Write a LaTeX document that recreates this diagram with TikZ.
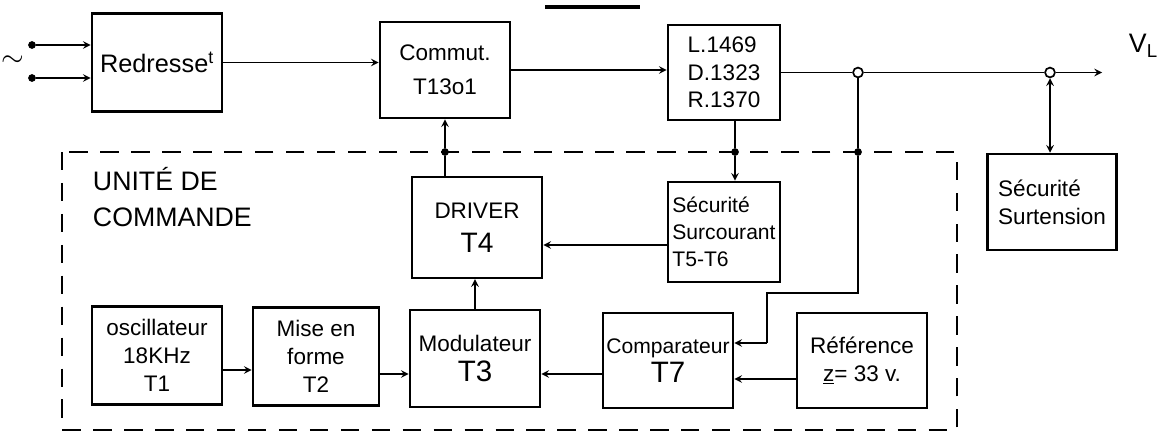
\documentclass[tikz,border=0pt]{standalone}
\usepackage{fontspec}
\setmainfont{Liberation Sans}
\usetikzlibrary{arrows,positioning,calc}

\begin{document}
\begin{tikzpicture}[x=0.025cm, y=-0.025cm, >=stealth,
    bloc/.style={draw, line width=1.8pt, minimum width=3.25cm, minimum height=2.45cm,
        inner sep=2pt, align=center, font=\fontsize{16}{20}\selectfont},
    liaison/.style={line width=1.4pt},
    pointn/.style={circle, fill, inner sep=0pt, minimum size=5.5pt},
    pointo/.style={circle, draw, fill=white, line width=1.2pt, inner sep=0pt, minimum size=7pt}]
    \useasboundingbox (0,0) rectangle (1162,440);

    % Unite de commande (cadre)
    \draw[line width=1.8pt, dash pattern=on 13pt off 9pt] (62,152) rectangle (957,430);
    \node[anchor=north west, align=left, font=\fontsize{19}{26}\selectfont] (titre) at (88,162) {UNITÉ DE\\COMMANDE};
    \draw[line width=2.5pt] (545,7) -- (640,7);

    % Chaine de puissance
    \node[bloc, font=\fontsize{18}{22}\selectfont] (redr) at (157,62.5) {Redresse\textsuperscript{t}};
    \node[bloc, minimum height=2.4cm] (commut) at (445,70) {Commut.\\[4pt]T13o1};
    \node[bloc, minimum width=2.8cm, minimum height=2.38cm, align=left, font=\fontsize{16}{19.5}\selectfont] (filtre) at (724,72.5) {L.1469\\D.1323\\R.1370};
    \node[bloc, minimum width=3.22cm, minimum height=2.4cm, align=left] (surt) at (1052,202) {Sécurité\\Surtension};

    % Blocs de commande
    \node[bloc, minimum height=2.52cm] (driver) at (477,227.5) {DRIVER\\[4pt]{\fontsize{20}{22}\selectfont T4}};
    \node[bloc, minimum width=2.8cm, minimum height=2.5cm, align=left, font=\fontsize{15}{19}\selectfont] (surc) at (724,232) {Sécurité\\Surcourant\\T5-T6};
    \node[bloc] (osc) at (157,355.5) {oscillateur\\18KHz\\T1};
    \node[bloc, minimum width=3.15cm] (mise) at (316,356.5) {Mise en\\forme\\T2};
    \node[bloc, minimum height=2.42cm] (modul) at (475,358.5) {Modulateur\\[2pt]{\fontsize{21}{23}\selectfont T3}};
    \node[bloc, minimum height=2.38cm, font=\fontsize{15}{19}\selectfont] (comp) at (668,360.5) {Comparateur\\[2pt]{\fontsize{21}{23}\selectfont T7}};
    \node[bloc, minimum height=2.38cm] (ref) at (862,360.5) {Référence\\\underline{z}= 33 v.};

    % Entree alternative
    \node[pointn] (in1) at (32,45) {};
    \node[pointn] (in2) at (32,78) {};
    \node[font=\fontsize{22}{22}\selectfont] (alt) at (13,61) {$\sim$};
    \draw[liaison,->] (in1) -- (in1 -| redr.west);
    \draw[liaison,->] (in2) -- (in2 -| redr.west);

    % Liaisons de puissance
    \draw[liaison,->] (redr.east) -- (redr.east -| commut.west);
    \draw[liaison,->] (commut.east) -- (commut.east -| filtre.west);
    \node[pointo] (j1) at (858,72.5) {};
    \node[pointo] (j2) at (1050,72.5) {};
    \coordinate (vout) at (1102,72.5);
    \draw[liaison] (filtre.east) -- (j1) -- (j2);
    \draw[liaison,->] (j2) -- (vout);
    \node[anchor=west, font=\fontsize{19}{22}\selectfont] (vl) at (1124,46) {V\textsubscript{L}};
    \draw[liaison,<->] (j2) -- (j2 |- surt.north);

    % Retour tension vers comparateur
    \node[pointn] (d1) at (858,152) {};
    \coordinate (c1) at (858,293);
    \coordinate (c2) at (767,293);
    \coordinate (c3) at (767,343);
    \draw[liaison] (j1) -- (d1) -- (c1) -- (c2) -- (c3);
    \draw[liaison,->] (c3) -- (c3 -| comp.east);

    % Mesure du courant
    \node[pointn] (d2) at (735,152) {};
    \draw[liaison] (d2 |- filtre.south) -- (d2);
    \draw[liaison,->] (d2) -- (d2 |- surc.north);

    % Commande du commutateur
    \node[pointn] (d3) at (445,152) {};
    \draw[liaison] (d3 |- driver.north) -- (d3);
    \draw[liaison,->] (d3) -- (commut.south);

    % Liaisons internes
    \coordinate (s1) at (668,245);
    \draw[liaison,->] (s1 -| surc.west) -- (s1 -| driver.east);
    \draw[liaison,->] (modul.north) -- (modul.north |- driver.south);
    \coordinate (r1) at (797,379);
    \draw[liaison,->] (r1 -| ref.west) -- (r1 -| comp.east);
    \coordinate (m1) at (540,374);
    \draw[liaison,->] (m1 -| comp.west) -- (m1 -| modul.east);
    \coordinate (o1) at (222,370);
    \draw[liaison,->] (o1 -| osc.east) -- (o1 -| mise.west);
    \coordinate (o2) at (379,374);
    \draw[liaison,->] (o2 -| mise.east) -- (o2 -| modul.west);
\end{tikzpicture}
\end{document}
